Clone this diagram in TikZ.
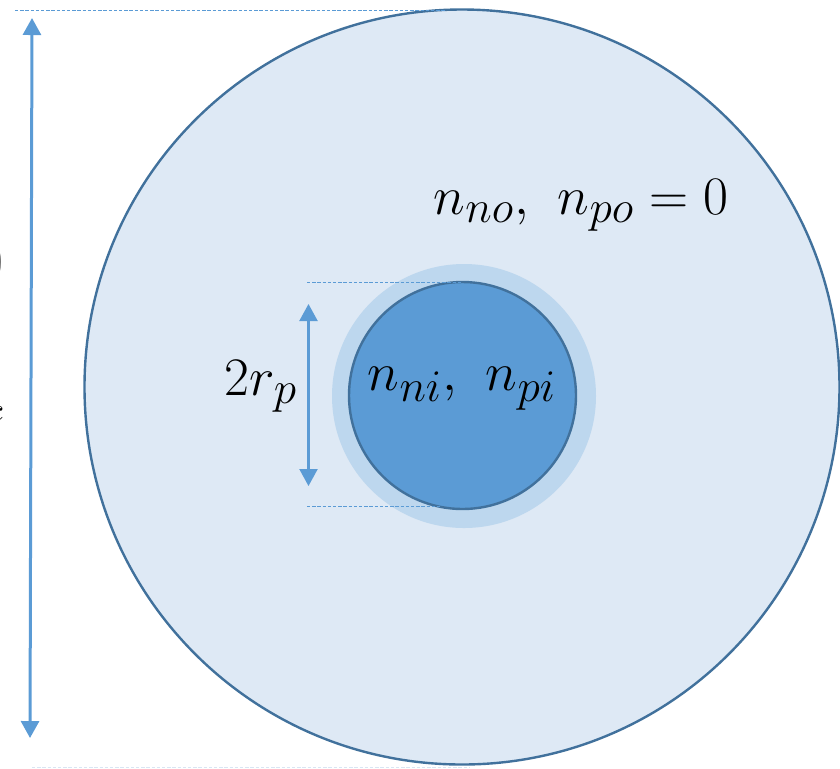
\documentclass[tikz,border=0pt]{standalone}
\usetikzlibrary{arrows.meta}
\definecolor{fillout}{HTML}{DEE9F5}
\definecolor{edge}{HTML}{41719C}
\definecolor{halo}{HTML}{BDD7EE}
\definecolor{core}{HTML}{5B9BD5}
\definecolor{faint}{HTML}{D9E5F3}
\newcommand{\bigmath}[1]{\scalebox{1.09}{$#1$}}
\begin{document}
\begin{tikzpicture}[x=0.5pt,y=-0.5pt,
  dim/.style={draw=core, line width=1.5pt, {Triangle[width=9pt,length=8.5pt]}-{Triangle[width=9pt,length=8.5pt]}},
  guide/.style={draw=core, line width=0.5pt, dash pattern=on 1.7pt off 0.9pt},
  lbl/.style={font=\fontsize{30.5}{36}\selectfont, inner sep=0pt}]
\useasboundingbox (0,0) rectangle (840,768);
\begin{scope}
\clip (0,0) rectangle (840,768);
% outer circle
\node[circle, fill=fillout, draw=edge, line width=1.2pt, minimum size=377.5pt, inner sep=0pt] (outer) at (462,387) {};
% halo
\node[circle, fill=halo, minimum size=132pt, inner sep=0pt] (halo) at (464,396) {};
% core
\node[circle, fill=core, draw=edge, line width=1.2pt, minimum size=113.5pt, inner sep=0pt] (core) at (462.5,395.5) {};
% guides
\coordinate (gt1) at (15,10);
\coordinate (gt2) at (445,10);
\draw[guide] (gt1) -- (gt2);
\coordinate (gb1) at (32,767);
\coordinate (gb2) at (470,767);
\draw[guide, draw=faint] (gb1) -- (gb2);
\coordinate (it1) at (307,282);
\coordinate (it2) at (462,282);
\draw[guide] (it1) -- (it2);
\coordinate (ib1) at (307,506);
\coordinate (ib2) at (440,506);
\draw[guide] (ib1) -- (ib2);
% arrows
\coordinate (A1) at (32,18);
\coordinate (A2) at (30,738);
\draw[dim] (A1) -- (A2);
\coordinate (B1) at (308.5,304);
\coordinate (B2) at (308.5,486);
\draw[dim, line width=1.1pt] (B1) -- (B2);
% labels
\node[lbl] (tout) at (581,205) {\bigmath{n_{no},\ n_{po} = 0}};
\node[lbl] (tin) at (462,389) {\bigmath{n_{ni},\ n_{pi}}};
\node[lbl] (trp) at (261,386) {\bigmath{2r_p}};
% cut-off fragments at the left edge
\node[lbl, text=black!60, anchor=east] (frag1) at (4,262) {$0$};
\node[lbl, anchor=east, font=\fontsize{18}{20}\selectfont] (frag2) at (3,414) {$c$};
\end{scope}
\end{tikzpicture}
\end{document}
